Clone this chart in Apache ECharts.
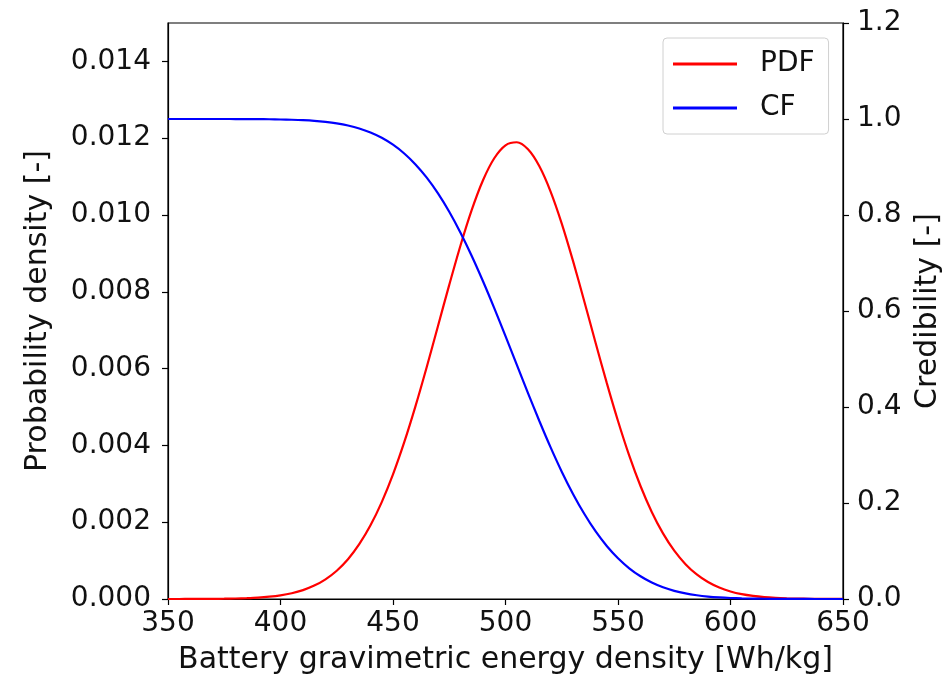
<!DOCTYPE html>
<html>
<head>
<meta charset="utf-8">
<script src="https://cdn.jsdelivr.net/npm/echarts@6/dist/echarts.min.js"></script>
<style>html,body{margin:0;padding:0;background:#fff;}#c{width:943px;height:679px;}</style>
</head>
<body>
<div id="c"></div>
<script>
const xValues = [350,355,360,365,370,375,380,385,390,395,400,405,410,415,420,425,430,435,440,445,450,455,460,465,470,475,480,485,490,495,500,505,510,515,520,525,530,535,540,545,550,555,560,565,570,575,580,585,590,595,600,605,610,615,620,625,630,635,640,645,650];
const pdfValues = [0.0000003,0.0000006,0.0000012,0.0000022,0.0000040,0.0000072,0.0000126,0.000022,0.000036,0.000060,0.000096,0.000151,0.000232,0.000349,0.000513,0.000737,0.001037,0.001427,0.001918,0.002524,0.003246,0.004083,0.005023,0.006043,0.007110,0.008181,0.009207,0.010132,0.010905,0.011478,0.011815,0.011895,0.011711,0.011275,0.010617,0.009777,0.008805,0.007755,0.006681,0.005628,0.004636,0.003734,0.002943,0.002267,0.001709,0.001259,0.000908,0.000640,0.000441,0.000297,0.000196,0.000126,0.000080,0.000049,0.000030,0.000018,0.000010,0.0000057,0.0000031,0.0000017,0.0000009];
const cfValues = [1.0000,1.0000,1.0000,1.0000,1.0000,1.0000,0.9999,0.9998,0.9997,0.9995,0.9990,0.9984,0.9975,0.9961,0.9939,0.9908,0.9864,0.9803,0.9719,0.9609,0.9465,0.9282,0.9054,0.8778,0.8450,0.8067,0.7631,0.7147,0.6620,0.6060,0.5475,0.4881,0.4290,0.3714,0.3164,0.2653,0.2189,0.1775,0.1412,0.1105,0.0849,0.0640,0.0473,0.0343,0.0244,0.0170,0.0116,0.0078,0.0051,0.0033,0.0021,0.0013,0.0008,0.0005,0.0003,0.0002,0.0001,0.0001,0.0000,0.0000,0.0000];
const xTicks = [350,400,450,500,550,600,650];
const leftTicks = [0,0.002,0.004,0.006,0.008,0.010,0.012,0.014];
const rightTicks = [0,0.2,0.4,0.6,0.8,1.0,1.2];

const FONT = 'DejaVu Sans';
const FS = 28;
const NFS = 30;
const chart = echarts.init(document.getElementById('c'), null, {renderer:'canvas'});
const pdfData = xValues.map((x,i)=>[x,pdfValues[i]]);
const cfData = xValues.map((x,i)=>[x,cfValues[i]]);
const axisCommon = {
  axisLine:{show:true,lineStyle:{color:'#000',width:1.2}},
  axisTick:{show:true,inside:false,length:6,lineStyle:{color:'#000',width:1.2}},
  splitLine:{show:false},
  nameTextStyle:{fontFamily:FONT,fontSize:NFS,color:'#111'}
};
chart.setOption({
  backgroundColor:'#fff',
  animation:false,
  grid:{left:168,right:100,top:23,bottom:80,show:true,borderColor:'#000',borderWidth:1.2,containLabel:false,outerBoundsMode:'none'},
  legend:{
    orient:'vertical',left:663,top:38,
    padding:[12,14,12,10],itemGap:16,
    itemWidth:64,itemHeight:3,icon:'rect',
    backgroundColor:'rgba(255,255,255,0.8)',borderColor:'#d0d0d0',borderWidth:1,borderRadius:4,
    textStyle:{fontFamily:FONT,fontSize:FS,color:'#111',padding:[0,0,0,18]},
    data:['PDF','CF']
  },
  xAxis:Object.assign({},axisCommon,{
    type:'value',min:350,max:650,interval:50,
    name:'Battery gravimetric energy density [Wh/kg]',nameLocation:'middle',nameGap:46,
    axisTick:Object.assign({},axisCommon.axisTick,{customValues:xTicks}),
    axisLabel:{customValues:xTicks,fontFamily:FONT,fontSize:FS,color:'#111',margin:11}
  }),
  yAxis:[
    Object.assign({},axisCommon,{
      type:'value',min:0,max:0.015,position:'left',
      name:'Probability density [-]',nameLocation:'middle',nameGap:115,
      axisTick:Object.assign({},axisCommon.axisTick,{customValues:leftTicks}),
      axisLabel:{customValues:leftTicks,fontFamily:FONT,fontSize:FS,color:'#111',margin:17,formatter:v=>v.toFixed(3)}
    }),
    Object.assign({},axisCommon,{
      type:'value',min:0,max:1.2,position:'right',
      name:'Credibility [-]',nameLocation:'middle',nameGap:70,
      axisTick:Object.assign({},axisCommon.axisTick,{customValues:rightTicks}),
      axisLabel:{customValues:rightTicks,fontFamily:FONT,fontSize:FS,color:'#111',margin:14,formatter:v=>v.toFixed(1)}
    })
  ],
  series:[
    {name:'PDF',type:'line',yAxisIndex:0,data:pdfData,smooth:0.3,showSymbol:false,lineStyle:{color:'#ff0000',width:2.2},itemStyle:{color:'#ff0000'}},
    {name:'CF',type:'line',yAxisIndex:1,data:cfData,smooth:0.3,showSymbol:false,lineStyle:{color:'#0000ff',width:2.2},itemStyle:{color:'#0000ff'}}
  ]
});
</script>
</body>
</html>
